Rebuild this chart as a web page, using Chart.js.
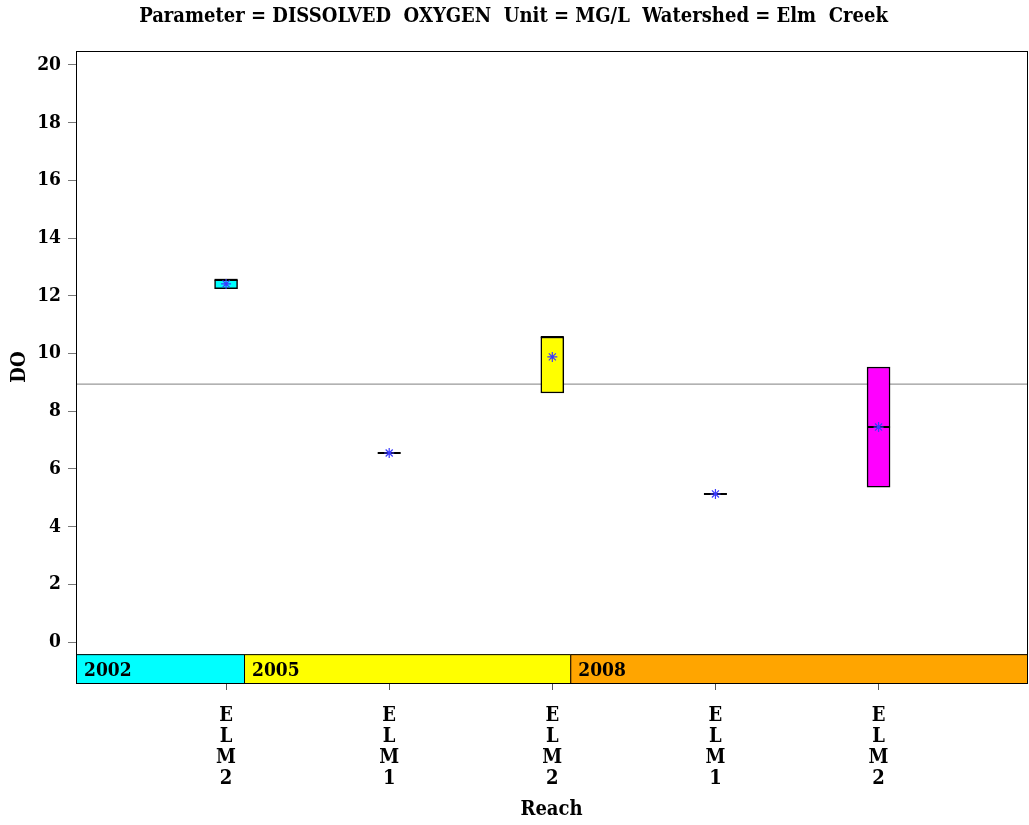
<!DOCTYPE html>
<html>
<head>
<meta charset="utf-8">
<title>DO by Reach - Elm Creek</title>
<script src="https://cdn.jsdelivr.net/npm/chart.js@4.4.1/dist/chart.umd.min.js"></script>
<style>
  html,body{margin:0;padding:0;background:#fff;}
  #wrap{width:1029px;height:825px;}
</style>
</head>
<body>
<div id="wrap"><canvas id="chart" width="1029" height="825"></canvas></div>
<script>
// data
const categories = [['E','L','M','2'],['E','L','M','1'],['E','L','M','2'],['E','L','M','1'],['E','L','M','2']];
const xPos = [1, 2, 3, 4, 5];
const boxLow = [12.24, 6.55, 8.63, 5.13, 5.37];
const boxHigh = [12.55, 6.55, 10.57, 5.13, 9.53];
const medians = [12.55, 6.55, 10.57, 5.13, 7.45];
const means = [12.41, 6.55, 9.88, 5.13, 7.45];
const boxColors = ['#00ffff', '#ffff00', '#ffff00', '#ffa500', '#ff00ff'];

const years = ['2002', '2005', '2008'];
const yearStart = [0.08, 1.11, 3.11];
const yearEnd = [1.11, 3.11, 5.91];
const yearColors = ['#00ffff', '#ffff00', '#ffa500'];

const refLevel = 8.94;
const yTicks = [0, 2, 4, 6, 8, 10, 12, 14, 16, 18, 20];
const xMin = 0.08, xMax = 5.91, yMin = -1.42, yMax = 20.48, bandTop = -0.42;

const FONT = "'DejaVu Serif Condensed','DejaVu Serif',serif";

// year strip along the bottom + frame round the plot
const yearBands = {
  id: 'yearBands',
  beforeDatasetsDraw(chart){
    const {ctx, chartArea, scales:{x, y}} = chart;
    const top = y.getPixelForValue(bandTop), bot = chartArea.bottom;
    ctx.save();
    years.forEach((yr, i) => {
      const l = x.getPixelForValue(yearStart[i]), r = x.getPixelForValue(yearEnd[i]);
      ctx.fillStyle = yearColors[i];
      ctx.fillRect(l, top, r - l, bot - top);
      ctx.strokeStyle = '#000'; ctx.lineWidth = 1;
      ctx.strokeRect(l + 0.5, top + 0.5, r - l, bot - top);
      ctx.fillStyle = '#000';
      ctx.font = 'bold 19px ' + FONT;
      ctx.textBaseline = 'middle';
      ctx.fillText(yr, l + 8, (top + bot) / 2 + 2);
    });
    ctx.restore();
  },
  afterDraw(chart){
    const {ctx, chartArea:a} = chart;
    ctx.save();
    ctx.strokeStyle = '#000'; ctx.lineWidth = 1;
    ctx.strokeRect(a.left + 0.5, a.top + 0.5, a.right - a.left, a.bottom - a.top);
    ctx.restore();
  }
};

new Chart(document.getElementById('chart'), {
  data: {
    datasets: [
      {
        type: 'line',
        data: [{x: xMin, y: refLevel}, {x: xMax, y: refLevel}],
        borderColor: '#999', borderWidth: 1.2, pointRadius: 0, order: 5
      },
      {
        type: 'bar',
        data: xPos.map((x, i) => ({x: x, y: [boxLow[i], boxHigh[i]]})),
        backgroundColor: boxColors,
        borderColor: '#000', borderWidth: 1.5, borderSkipped: false,
        barThickness: 23, order: 3
      },
      {
        type: 'scatter',
        data: xPos.map((x, i) => ({x: x, y: medians[i]})),
        pointStyle: 'line', pointRadius: 11.5, borderColor: '#000', borderWidth: 2,
        order: 2
      },
      {
        type: 'scatter',
        data: xPos.map((x, i) => ({x: x, y: means[i]})),
        pointStyle: 'star', pointRadius: 5, borderColor: '#3a3aff', borderWidth: 1.2,
        order: 1
      }
    ]
  },
  options: {
    responsive: false,
    animation: false,
    layout: {autoPadding: false, padding: {left: 0, right: 2, top: 0, bottom: 0}},
    plugins: {
      legend: {display: false},
      tooltip: {enabled: false},
      title: {
        display: true,
        text: 'Parameter = DISSOLVED  OXYGEN  Unit = MG/L  Watershed = Elm  Creek',
        color: '#000',
        font: {family: FONT, size: 20, weight: 'bold'},
        padding: {top: 5, bottom: 22}
      }
    },
    scales: {
      x: {
        type: 'linear', min: xMin, max: xMax,
        offset: false,
        afterBuildTicks: s => { s.ticks = xPos.map(v => ({value: v})); },
        afterFit: s => { s.height = 142; s.paddingLeft = 0; s.paddingRight = 0; },
        ticks: {
          autoSkip: false, maxRotation: 0, padding: 15,
          color: '#000',
          font: {family: FONT, size: 20, weight: 'bold', lineHeight: 1.05},
          callback: (v) => categories[xPos.indexOf(v)] || ''
        },
        grid: {drawOnChartArea: false, offset: false, tickLength: 7, color: '#555'},
        border: {display: false},
        title: {
          display: true, text: 'Reach', color: '#000',
          font: {family: FONT, size: 20, weight: 'bold'},
          padding: {top: 4, bottom: 3}
        }
      },
      y: {
        type: 'linear', min: yMin, max: yMax,
        afterBuildTicks: s => { s.ticks = yTicks.map(v => ({value: v})); },
        afterFit: s => { s.width = 76; s.paddingTop = 0; s.paddingBottom = 0; },
        ticks: {
          color: '#000', padding: 7,
          font: {family: FONT, size: 19, weight: 'bold'}
        },
        grid: {drawOnChartArea: false, tickLength: 8, color: '#777'},
        border: {display: false},
        title: {
          display: true, text: 'DO', color: '#000',
          font: {family: FONT, size: 20, weight: 'bold'},
          padding: {top: 8, bottom: 4}
        }
      }
    }
  },
  plugins: [yearBands]
});
</script>
</body>
</html>
